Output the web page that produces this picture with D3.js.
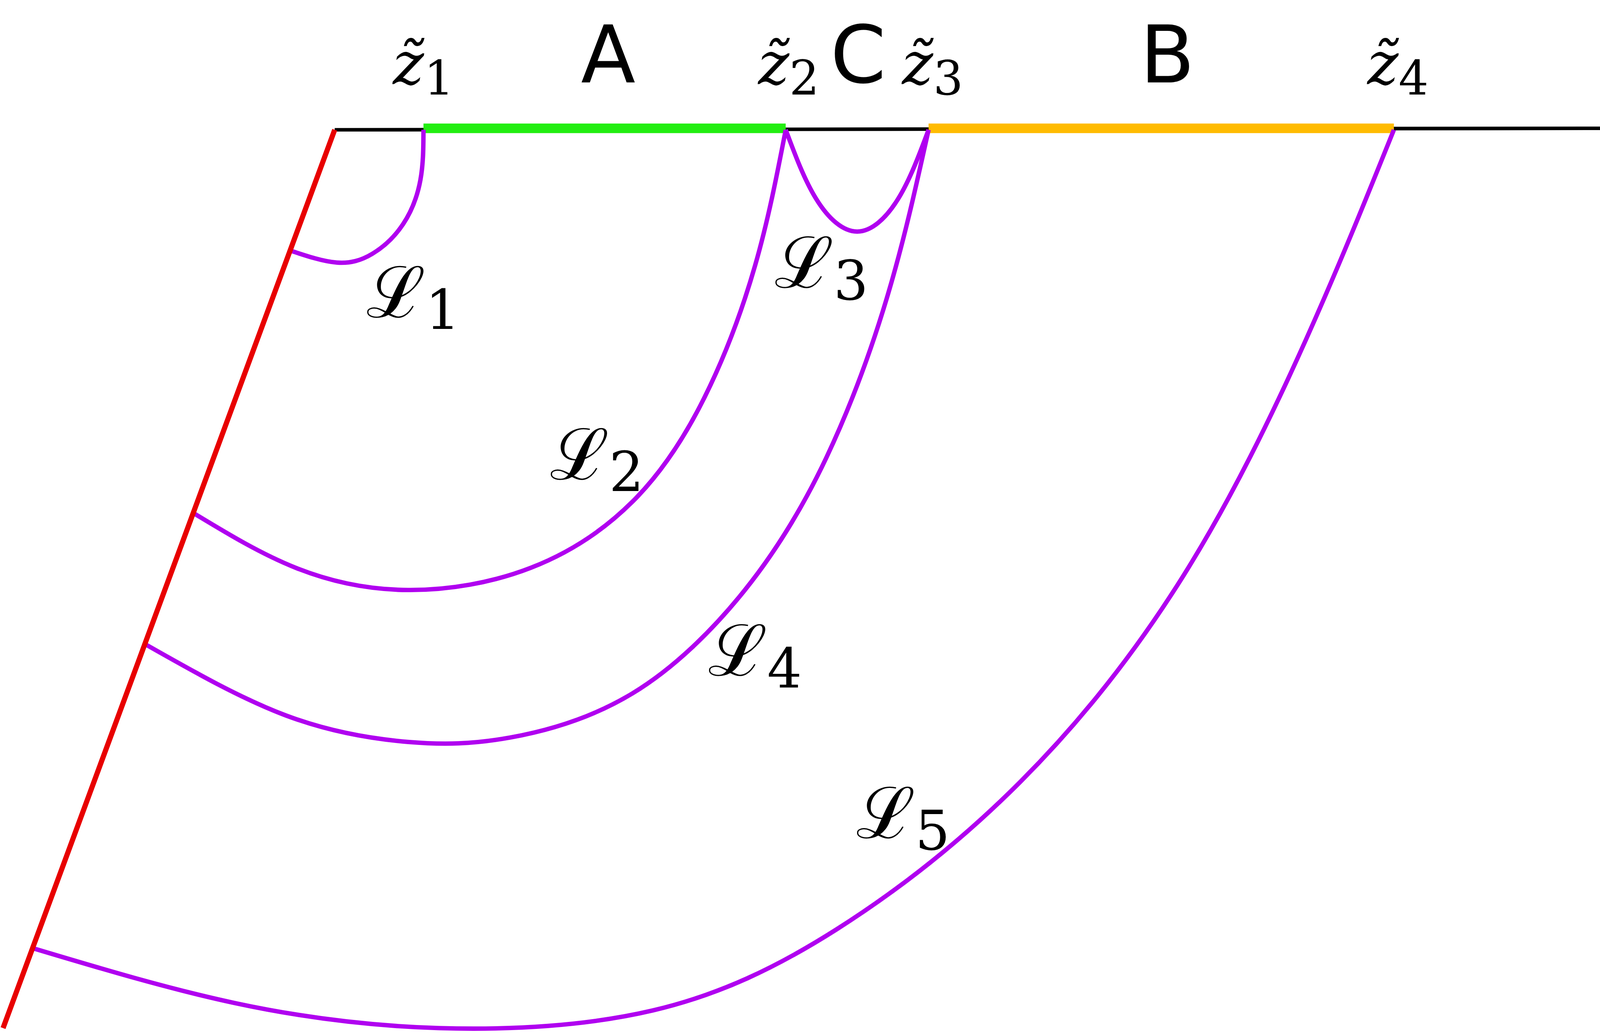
<!DOCTYPE html>
<html lang="en">
<head>
<meta charset="UTF-8">
<script src="https://d3js.org/d3.v7.min.js"></script>
<style>html,body{margin:0;background:#fff;overflow:hidden}svg{display:block}</style>
</head>
<body>
<script>
// data in reference units (0..1568 x 0..701)
var boundary = [[328, 88], [1568, 87]];
var fault = [[328, 88], [3, 697]];
var segA = [[415, 87], [770, 87]];
var segB = [[910, 87], [1366, 87]];
var curves = [
  [[415,88],[412,122],[395,152],[365,172],[330,178],[285,170]],
  [[770,88],[740,180],[690,270],[620,340],[520,385],[400,400],[290,385],[190,348]],
  [[770,88],[800,135],[840,157],[880,135],[910,88]],
  [[910,88],[870,200],[810,310],[730,400],[620,470],[500,500],[400,503],[280,485],[143,437]],
  [[1366,88],[1280,230],[1160,390],[1000,530],[820,630],[640,685],[430,697],[230,680],[33,643]]
];
var zLabels = [["1",415],["2",773],["3",914],["4",1370]];
var segLabels = [["A",596],["C",841],["B",1144]];
var lLabels = [["1",405,215],["2",585,325],["3",805,195],["4",740,458],["5",885,568]];

var W = window.innerWidth || 5915, H = window.innerHeight || 2647;
var k = H / 701; // px per reference unit (font scale)
var x = d3.scaleLinear().domain([0,1568]).range([0,W]);
var y = d3.scaleLinear().domain([0,701]).range([0,H]);
var svg = d3.select("body").append("svg").attr("width",W).attr("height",H);
var line = d3.line().x(d=>x(d[0])).y(d=>y(d[1]));
var curve = d3.line().x(d=>x(d[0])).y(d=>y(d[1])).curve(d3.curveNatural);

svg.append("path").attr("d",line(boundary)).attr("stroke","#000").attr("stroke-width",2.4*k).attr("fill","none");
svg.append("path").attr("d",line(segA)).attr("stroke","#22ee11").attr("stroke-width",6.5*k).attr("fill","none");
svg.append("path").attr("d",line(segB)).attr("stroke","#ffbb00").attr("stroke-width",6.5*k).attr("fill","none");
svg.selectAll(".c").data(curves).enter().append("path")
  .attr("d",curve).attr("stroke","#b000f0").attr("stroke-width",3*k).attr("fill","none");
svg.append("path").attr("d",line(fault)).attr("stroke","#e80000").attr("stroke-width",3.5*k).attr("fill","none");

svg.selectAll(".z").data(zLabels).enter().append("text")
  .attr("x",d=>x(d[1])).attr("y",y(57)).attr("text-anchor","middle")
  .attr("font-family","DejaVu Serif").attr("font-size",40*k)
  .each(function(d){
    var t=d3.select(this);
    t.append("tspan").attr("font-style","italic").text("z\u0303");
    t.append("tspan").attr("font-size",32*k).attr("dy",7*k).text(d[0]);
  });
svg.selectAll(".s").data(segLabels).enter().append("text")
  .attr("x",d=>x(d[1])).attr("y",y(56)).attr("text-anchor","middle")
  .attr("font-family","DejaVu Sans").attr("font-size",54*k).text(d=>d[0]);
svg.selectAll(".l").data(lLabels).enter().append("text")
  .attr("x",d=>x(d[1])).attr("y",d=>y(d[2])).attr("text-anchor","middle")
  .attr("font-family","DejaVu Serif").attr("font-size",48*k)
  .each(function(d){
    var t=d3.select(this);
    t.append("tspan").text("\u2112");
    t.append("tspan").attr("font-size",37*k).attr("dy",8*k).text(d[0]);
  });
</script>
</body>
</html>
